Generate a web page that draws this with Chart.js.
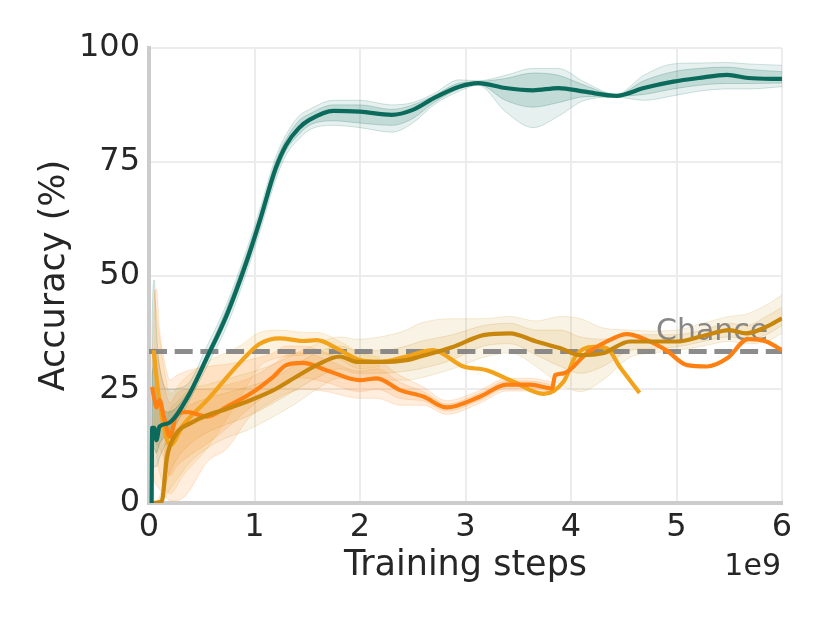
<!DOCTYPE html>
<html>
<head>
<meta charset="utf-8">
<script src="https://cdn.jsdelivr.net/npm/chart.js@4.4.1/dist/chart.umd.min.js"></script>
<style>
html,body{margin:0;padding:0;background:#fff;}
#wrap{width:830px;height:623px;}
</style>
</head>
<body>
<div id="wrap"><canvas id="c" width="830" height="623"></canvas></div>
<script>
// ---------- data ----------
const xTicks = [0, 1, 2, 3, 4, 5, 6];
const yTicks = [0, 25, 50, 75, 100];
const chanceLevel = 33.3;

// teal series
const tealX  = [0.025,0.03,0.05,0.07,0.1,0.18,0.36,0.55,0.74,0.93,1.05,1.2,1.3,1.42,1.52,1.75,2.0,2.3,2.5,2.7,2.94,3.12,3.38,3.64,3.88,4.13,4.43,4.69,4.97,5.21,5.48,5.68,6.0];
const tealY  = [0,16.5,16.5,13.8,16.8,17.5,23,32,41.5,53.4,62,73.5,78.7,82.4,84.2,86.2,86,85.3,86.4,89,91.5,92.3,91.2,90.7,91.2,90.4,89.5,91.2,92.6,93.4,94.1,93.4,93.2];
const tealLo = [0,8,8,8,10,14,21.5,30,39,51,59.5,71,76.5,80,82,83,82.5,81.5,83.5,87.5,90.5,91.8,86,82.5,85,88.5,89.2,88.5,89.5,90.5,91,91,91.5];
const tealHi = [0,40,49,38,30,25,26,34.5,44,56,64.5,76,81,85,86.5,88.5,88.5,87.5,88,90,93,92.8,94,95.5,95.5,92.5,89.8,94,96.5,96.7,96.8,96.5,96.2];
const tealLoIn = [0,12,12,11,13,15.5,22.3,31,40.3,52,60.5,72,77.5,81,83,84,83.5,83,84.5,88,91,92,88.5,87,88,89.3,89.4,89.8,91,91.8,92.2,92.2,92.3];
const tealHiIn = [0,28,30,25,22,20,24,33,43,55,63.5,75,80,84,85.5,87.5,87.5,86.5,87.5,89.5,92.3,92.6,93.3,94.5,94,91.8,89.7,92.8,94.8,95.5,95.8,95.3,94.8];

// bright orange series
const orangeX = [0.03,0.05,0.07,0.1,0.14,0.2,0.26,0.36,0.55,0.74,0.96,1.18,1.3,1.46,1.68,2.0,2.16,2.38,2.6,2.82,3.14,3.39,3.61,3.82,3.85,3.93,4.15,4.34,4.53,4.72,4.9,5.1,5.29,5.48,5.68,5.85,6.0];
const orangeY = [25.5,23,21,22.6,19,14.6,19.3,20,19,21.2,24,27.8,30.3,30.8,29.2,27,27.4,24.8,23.4,21,23.4,26,26,25.2,28.1,28.5,32.9,35.5,37.1,35.8,33.6,30.3,30,31.8,36,35.5,33.6];
const orangeBandX = [0.03,0.05,0.07,0.1,0.14,0.2,0.26,0.36,0.55,0.74,0.96,1.18,1.3,1.46,1.68,2.0,2.16,2.38,2.6,2.82,3.14,3.39,3.61,3.82];
const orangeLo = [10,5,4,3,2,0.5,0.5,2,9,12,19,22.5,24,25,24.5,23,23,21.5,21.5,19.5,22,24.6,24.6,23.8];
const orangeHi = [30,45,47,38,32,27,28,29,30,30.5,31.5,33,34.5,34.5,33,31,31,28,25.5,22.5,24.8,27.4,27.4,26.6];
const orangeLoIn = [18,14,13,12,10,6,8,10,13,16.5,21,25,27,27.5,26.5,24.5,25,23,22.4,20.2,22.6,25.2,25.2,24.4];
const orangeHiIn = [28,34,33,30,26,22,24,25,25,26,27.5,30.5,32.5,33,31.5,29,29.5,26.5,24.5,21.8,24.2,26.8,26.8,26];

// amber series
const amberX = [0.045,0.06,0.09,0.14,0.2,0.32,0.55,0.86,1.05,1.24,1.46,1.59,1.81,2.0,2.19,2.44,2.69,2.98,3.2,3.45,3.74,3.93,4.05,4.21,4.34,4.46,4.65];
const amberY = [33.6,30,24,16.8,12.7,17,22.6,30.8,35,36.2,35.6,35.8,33.6,31.4,31,32.2,33.6,30,29.2,26.7,24,26.7,32.5,34.3,34,30,24.2];
const amberBandX = [0.045,0.06,0.09,0.14,0.2,0.32,0.55,0.86,1.05,1.24,1.46,1.59,1.81,2.0,2.19];
const amberLo = [20,14,8,4,2,6,12,23,30,32,32.5,33,31.5,29.5,30];
const amberHi = [47,44,38,30,24,27,31,34.5,37.5,38,37.5,37.5,35.5,33,32];

// dark gold series
const goldX = [0.03,0.12,0.17,0.26,0.39,0.55,0.7,0.93,1.18,1.4,1.59,1.81,1.97,2.19,2.44,2.57,2.88,3.17,3.42,3.67,3.9,4.09,4.3,4.56,4.78,5.0,5.25,5.5,5.66,5.85,6.0];
const goldY = [0,0.3,10,15.3,17.5,19.3,20.4,22.3,24.8,27.8,30.3,32.2,31,31,31.4,32.2,34.3,36.9,37.3,35.5,34,32.5,32.9,35.5,35.5,35.5,36.7,38,37.3,38.7,40.6];
const goldLo = [0,0,2,5,9,12,14,16,19,22,25,27.5,27,27,27,27.5,29.5,32,33,30,26,24.5,27,32,33,33.5,34.5,35.5,35,35.5,37.3];
const goldHi = [0,3,18,22,25,26,27,28.5,30.5,33,35,36.5,36,36.5,38,39.5,40.5,40.5,41,40,41,40.5,38.5,38,37.8,38,39.5,41,41.5,43.5,45.7];
const goldLoIn = [0,0,5,9.5,13,15.5,17,19,22,25,27.5,29.5,28.5,28.5,29,29.5,31.5,34.5,35,32.5,30,28.5,30,33.5,34,34.3,35.5,36.5,36,37,39];
const goldHiIn = [0,1.5,14,19,21.5,23,24,25.5,27.5,30.5,33,34.5,33.5,33.5,34.5,35.5,37,39,39.5,38,38,36.5,36,37,37,37,38,39.5,39,41,43];

// ---------- build datasets ----------
const pts = (xs, ys) => xs.map((x, i) => ({x: x, y: ys[i]}));
const datasets = [];
function addBand(xs, lo, hi, fill, edge, order) {
  const loIdx = datasets.length;
  datasets.push({data: pts(xs, lo), borderColor: edge, borderWidth: 1, pointRadius: 0, fill: false, cubicInterpolationMode: 'monotone', order: order});
  datasets.push({data: pts(xs, hi), borderColor: edge, borderWidth: 1, pointRadius: 0, fill: {target: loIdx}, backgroundColor: fill, cubicInterpolationMode: 'monotone', order: order});
}
function addLine(xs, ys, color, order) {
  datasets.push({data: pts(xs, ys), borderColor: color, borderWidth: 4.2, pointRadius: 0, fill: false, cubicInterpolationMode: 'monotone', borderCapStyle: 'butt', order: order});
}

const TEAL = '#0a6a5c', ORANGE = '#ff8012', AMBER = '#f2a31a', GOLD = '#c8870c';

addBand(tealX, tealLo, tealHi, 'rgba(10,106,92,0.10)', 'rgba(10,106,92,0.18)', 20);
addBand(tealX, tealLoIn, tealHiIn, 'rgba(10,106,92,0.16)', 'rgba(10,106,92,0.22)', 20);
addBand(orangeBandX, orangeLo, orangeHi, 'rgba(255,128,18,0.14)', 'rgba(255,128,18,0.18)', 20);
addBand(orangeBandX, orangeLoIn, orangeHiIn, 'rgba(255,128,18,0.14)', 'rgba(255,128,18,0.18)', 20);
addBand(amberBandX, amberLo, amberHi, 'rgba(242,163,26,0.14)', 'rgba(242,163,26,0.2)', 20);
addBand(goldX, goldLo, goldHi, 'rgba(200,135,12,0.10)', 'rgba(200,135,12,0.16)', 20);
addBand(goldX, goldLoIn, goldHiIn, 'rgba(200,135,12,0.12)', 'rgba(200,135,12,0.18)', 20);

// chance line
datasets.push({data: [{x: xTicks[0], y: chanceLevel}, {x: xTicks[xTicks.length - 1], y: chanceLevel}], borderColor: 'rgba(128,128,128,0.9)', borderWidth: 5, borderDash: [18, 7.7], pointRadius: 0, fill: false, order: 10});

addLine(amberX, amberY, AMBER, 4);
addLine(orangeX, orangeY, ORANGE, 3);
addLine(goldX, goldY, GOLD, 2);
addLine(tealX, tealY, TEAL, 1);

// ---------- text plugin ----------
const FONT = '"DejaVu Sans", sans-serif';
const textPlugin = {
  id: 'texts',
  beforeDatasetsDraw(chart) {
    const ctx = chart.ctx;
    const y = chart.scales.y;
    ctx.save();
    ctx.font = '30px ' + FONT;
    ctx.fillStyle = '#878787';
    ctx.textAlign = 'left';
    ctx.textBaseline = 'alphabetic';
    ctx.fillText('Chance', 656, y.getPixelForValue(chanceLevel) - 11);
    ctx.restore();
  },
  afterDraw(chart) {
    const ctx = chart.ctx;
    const a = chart.chartArea;
    ctx.save();
    ctx.fillStyle = '#262626';
    ctx.font = '35px ' + FONT;
    ctx.textAlign = 'center';
    ctx.textBaseline = 'middle';
    ctx.fillText('Training steps', (a.left + a.right) / 2, 566);
    ctx.save();
    ctx.translate(55, (a.top + a.bottom) / 2);
    ctx.rotate(-Math.PI / 2);
    ctx.fillText('Accuracy (%)', 0, 0);
    ctx.restore();
    ctx.font = '30px ' + FONT;
    ctx.textAlign = 'right';
    ctx.fillText('1e9', a.right - 1, 567);
    ctx.restore();
  }
};

new Chart(document.getElementById('c'), {
  type: 'line',
  data: {datasets: datasets},
  options: {
    responsive: false,
    animation: false,
    layout: {padding: {left: 0, right: 48, top: 48, bottom: 0}},
    plugins: {legend: {display: false}, tooltip: {enabled: false}, filler: {drawTime: 'beforeDatasetsDraw'}},
    scales: {
      x: {
        type: 'linear', min: xTicks[0], max: xTicks[xTicks.length - 1],
        afterBuildTicks: (s) => { s.ticks = xTicks.map(v => ({value: v})); },
        afterFit: (s) => { s.height = 120; },
        ticks: {font: {family: FONT, size: 32}, color: '#262626', padding: 5, maxRotation: 0},
        grid: {color: '#ececec', lineWidth: 2, drawTicks: false},
        border: {color: '#cccccc', width: 4}
      },
      y: {
        type: 'linear', min: yTicks[0], max: yTicks[yTicks.length - 1],
        afterBuildTicks: (s) => { s.ticks = yTicks.map(v => ({value: v})); },
        afterFit: (s) => { s.width = 149; },
        ticks: {font: {family: FONT, size: 32}, color: '#262626', padding: 9},
        grid: {color: '#ececec', lineWidth: 2, drawTicks: false},
        border: {color: '#cccccc', width: 4}
      }
    }
  },
  plugins: [textPlugin]
});
</script>
</body>
</html>
